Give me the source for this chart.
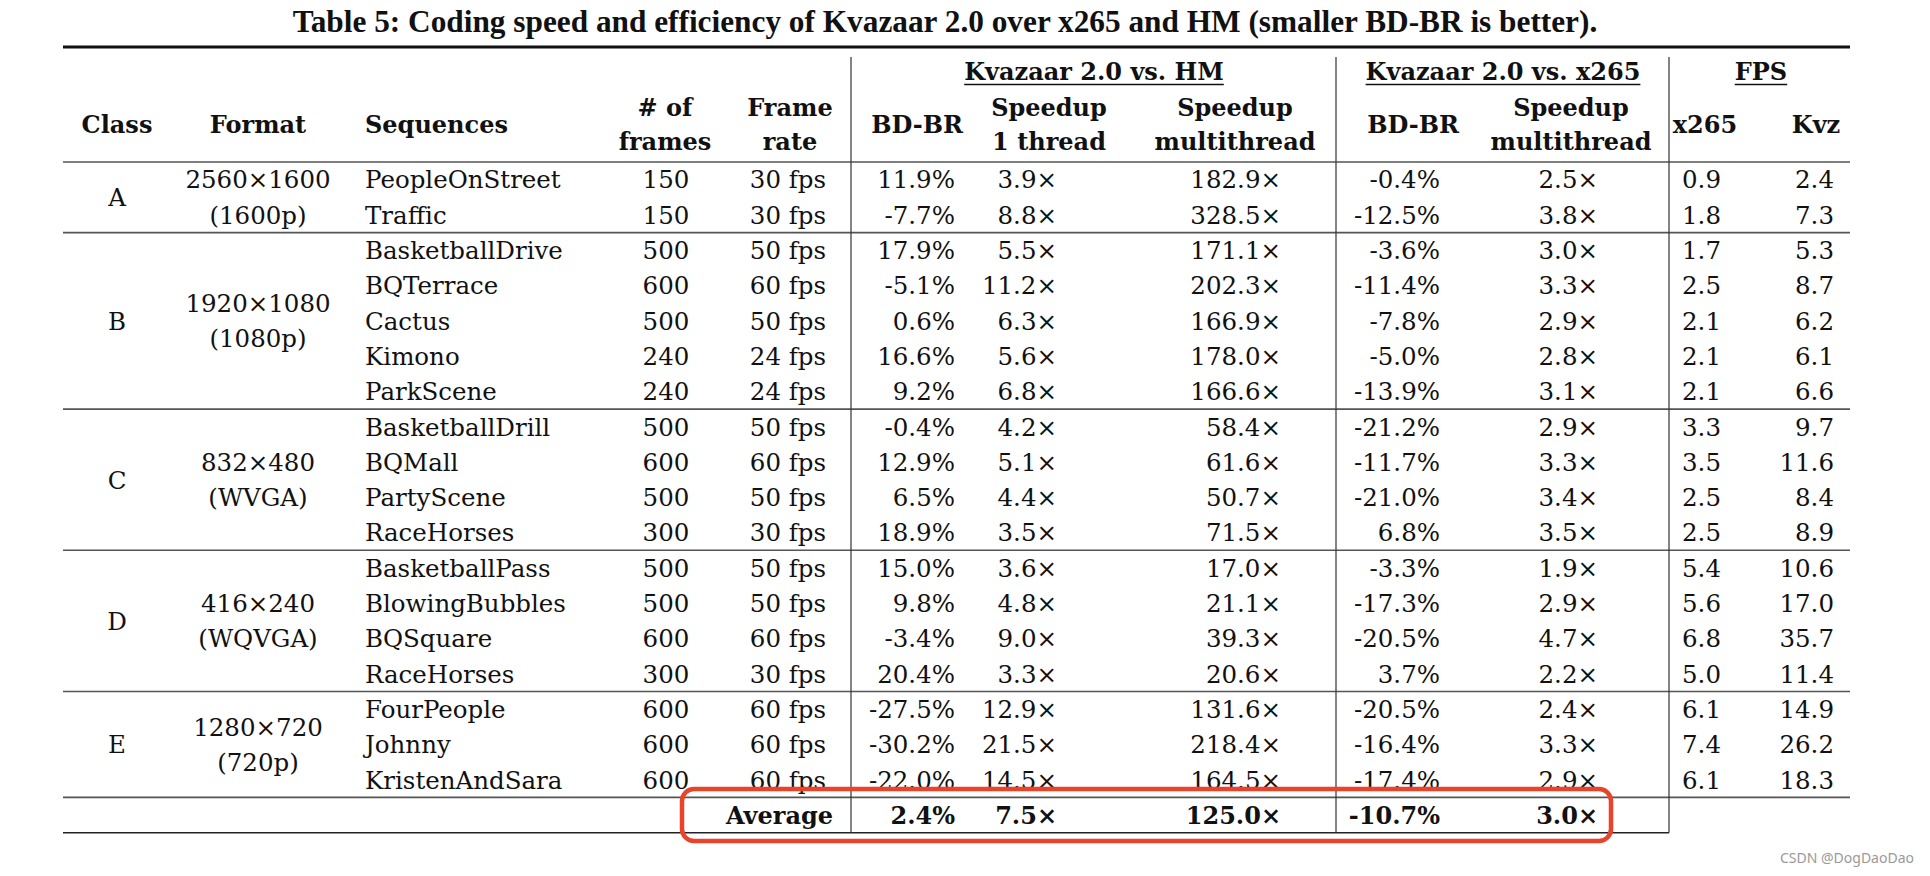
<!DOCTYPE html>
<html>
<head>
<meta charset="utf-8">
<script src="https://cdn.jsdelivr.net/npm/d3@7"></script>
<style>
  body { margin: 0; background: #fff; }
  svg { display: block; }
</style>
</head>
<body>
<div class="vis"></div>
<script>
// table data, one row per sequence
const classNames = ['A', 'B', 'C', 'D', 'E']
const classSizes = [2, 5, 4, 4, 3]
const formatRes = ['2560×1600', '1920×1080', '832×480', '416×240', '1280×720']
const formatName = ['(1600p)', '(1080p)', '(WVGA)', '(WQVGA)', '(720p)']

const sequences = [
  'PeopleOnStreet', 'Traffic',
  'BasketballDrive', 'BQTerrace', 'Cactus', 'Kimono', 'ParkScene',
  'BasketballDrill', 'BQMall', 'PartyScene', 'RaceHorses',
  'BasketballPass', 'BlowingBubbles', 'BQSquare', 'RaceHorses',
  'FourPeople', 'Johnny', 'KristenAndSara'
]
const frames = [150, 150, 500, 600, 500, 240, 240, 500, 600, 500, 300, 500, 500, 600, 300, 600, 600, 600]
const frameRates = [30, 30, 50, 60, 50, 24, 24, 50, 60, 50, 30, 50, 50, 60, 30, 60, 60, 60]
const hmBdbr = [11.9, -7.7, 17.9, -5.1, 0.6, 16.6, 9.2, -0.4, 12.9, 6.5, 18.9, 15.0, 9.8, -3.4, 20.4, -27.5, -30.2, -22.0]
const hmSpeed1 = [3.9, 8.8, 5.5, 11.2, 6.3, 5.6, 6.8, 4.2, 5.1, 4.4, 3.5, 3.6, 4.8, 9.0, 3.3, 12.9, 21.5, 14.5]
const hmSpeedMulti = [182.9, 328.5, 171.1, 202.3, 166.9, 178.0, 166.6, 58.4, 61.6, 50.7, 71.5, 17.0, 21.1, 39.3, 20.6, 131.6, 218.4, 164.5]
const x265Bdbr = [-0.4, -12.5, -3.6, -11.4, -7.8, -5.0, -13.9, -21.2, -11.7, -21.0, 6.8, -3.3, -17.3, -20.5, 3.7, -20.5, -16.4, -17.4]
const x265SpeedMulti = [2.5, 3.8, 3.0, 3.3, 2.9, 2.8, 3.1, 2.9, 3.3, 3.4, 3.5, 1.9, 2.9, 4.7, 2.2, 2.4, 3.3, 2.9]
const fpsX265 = [0.9, 1.8, 1.7, 2.5, 2.1, 2.1, 2.1, 3.3, 3.5, 2.5, 2.5, 5.4, 5.6, 6.8, 5.0, 6.1, 7.4, 6.1]
const fpsKvz = [2.4, 7.3, 5.3, 8.7, 6.2, 6.1, 6.6, 9.7, 11.6, 8.4, 8.9, 10.6, 17.0, 35.7, 11.4, 14.9, 26.2, 18.3]

const averageLabel = 'Average'
const average = { hmBd: 2.4, hmS1: 7.5, hmSm: 125.0, xBd: -10.7, xSm: 3.0 }

const title = 'Table 5: Coding speed and efficiency of Kvazaar 2.0 over x265 and HM (smaller BD-BR is better).'

const width = 1930
const height = 876
const left = 63
const right = 1850
const fpsRight = 1669
const headTop = 47
const headBottom = 162
const rowH = 35.3
const nRows = sequences.length + 1

const serif = '"DejaVu Serif", serif'

const svg = d3
  .select('.vis')
  .append('svg')
  .attr('width', width)
  .attr('height', height)

// rows through a band scale, the last band is the average row
const y = d3
  .scaleBand()
  .domain(d3.range(nRows))
  .range([headBottom, headBottom + nRows * rowH])
const yc = i => y(i) + y.bandwidth() / 2

// column anchors
const colX = d3
  .scaleOrdinal()
  .domain(['cls', 'fmt', 'seq', 'frames', 'rate', 'hmBd', 'hmS1', 'hmSm', 'xBd', 'xSm', 'fX', 'fK'])
  .range([117, 258, 365, 666, 788, 955, 1057, 1281, 1440, 1598, 1721, 1834])
const colAnchor = {
  cls: 'middle', fmt: 'middle', seq: 'start', frames: 'middle', rate: 'middle',
  hmBd: 'end', hmS1: 'end', hmSm: 'end', xBd: 'end', xSm: 'end', fX: 'end', fK: 'end'
}

const pct = d => `${d.toFixed(1)}%`
const times = d => `${d.toFixed(1)}×`
const one = d => d.toFixed(1)

// title
svg
  .append('text')
  .attr('x', 945)
  .attr('y', 32)
  .attr('text-anchor', 'middle')
  .attr('font-family', '"Liberation Serif", serif')
  .attr('font-weight', 'bold')
  .attr('font-size', 31.3)
  .attr('fill', '#111')
  .text(title)

// rules
const hline = (x1, x2, yy, w, c) =>
  svg
    .append('line')
    .attr('x1', x1)
    .attr('x2', x2)
    .attr('y1', yy)
    .attr('y2', yy)
    .attr('stroke', c)
    .attr('stroke-width', w)

hline(left, right, headTop, 3, '#111')
hline(left, right, headBottom, 1.6, '#555')
let acc = 0
classSizes.forEach(n => {
  acc += n
  hline(left, right, y(acc), 1.6, '#555')
})
hline(left, fpsRight, y(nRows - 1) + y.bandwidth(), 1.6, '#222')

// vertical separators
;[851, 1336, fpsRight].forEach(x =>
  svg
    .append('line')
    .attr('x1', x)
    .attr('x2', x)
    .attr('y1', 57)
    .attr('y2', y(nRows - 1) + y.bandwidth())
    .attr('stroke', '#333')
    .attr('stroke-width', 1.2)
)

// header
const head = svg
  .append('g')
  .attr('font-family', serif)
  .attr('font-weight', 'bold')
  .attr('font-size', 24)
  .attr('fill', '#111')

const headers = [
  { lines: ['Class'], x: 117, a: 'middle' },
  { lines: ['Format'], x: 258, a: 'middle' },
  { lines: ['Sequences'], x: 365, a: 'start' },
  { lines: ['# of', 'frames'], x: 665, a: 'middle' },
  { lines: ['Frame', 'rate'], x: 790, a: 'middle' },
  { lines: ['BD-BR'], x: 917, a: 'middle' },
  { lines: ['Speedup', '1 thread'], x: 1049, a: 'middle' },
  { lines: ['Speedup', 'multithread'], x: 1235, a: 'middle' },
  { lines: ['BD-BR'], x: 1413, a: 'middle' },
  { lines: ['Speedup', 'multithread'], x: 1571, a: 'middle' },
  { lines: ['x265'], x: 1705, a: 'middle' },
  { lines: ['Kvz'], x: 1816, a: 'middle' }
]
headers.forEach(h => {
  const ys = h.lines.length === 1 ? [124] : [107, 141.5]
  h.lines.forEach((t, i) =>
    head
      .append('text')
      .attr('x', h.x)
      .attr('y', ys[i])
      .attr('dy', '0.36em')
      .attr('text-anchor', h.a)
      .text(t)
  )
})

const groups = [
  { t: 'Kvazaar 2.0 vs. HM', x: 1094 },
  { t: 'Kvazaar 2.0 vs. x265', x: 1503 },
  { t: 'FPS', x: 1761 }
]
groups.forEach(g => {
  const t = head
    .append('text')
    .attr('x', g.x)
    .attr('y', 71)
    .attr('dy', '0.36em')
    .attr('text-anchor', 'middle')
    .text(g.t)
  const w = t.node().getComputedTextLength()
  hline(g.x - w / 2, g.x + w / 2, 84.5, 1.4, '#111')
})

// body
const body = svg
  .append('g')
  .attr('font-family', serif)
  .attr('font-size', 24.5)
  .attr('fill', '#111')

const cell = (g, key, i, txt) =>
  g
    .append('text')
    .attr('x', colX(key))
    .attr('y', yc(i))
    .attr('dy', '0.36em')
    .attr('text-anchor', colAnchor[key])
    .text(txt)

sequences.forEach((s, i) => {
  cell(body, 'seq', i, s)
  cell(body, 'frames', i, frames[i])
  cell(body, 'rate', i, `${frameRates[i]} fps`)
  cell(body, 'hmBd', i, pct(hmBdbr[i]))
  cell(body, 'hmS1', i, times(hmSpeed1[i]))
  cell(body, 'hmSm', i, times(hmSpeedMulti[i]))
  cell(body, 'xBd', i, pct(x265Bdbr[i]))
  cell(body, 'xSm', i, times(x265SpeedMulti[i]))
  cell(body, 'fX', i, one(fpsX265[i]))
  cell(body, 'fK', i, one(fpsKvz[i]))
})

// class + format spanning cells
let start = 0
classNames.forEach((c, k) => {
  const n = classSizes[k]
  const mid = (y(start) + y(start + n - 1) + y.bandwidth()) / 2
  body
    .append('text')
    .attr('x', colX('cls'))
    .attr('y', mid)
    .attr('dy', '0.36em')
    .attr('text-anchor', 'middle')
    .text(c)
  ;[formatRes[k], formatName[k]].forEach((t, j) =>
    body
      .append('text')
      .attr('x', colX('fmt'))
      .attr('y', mid + (j === 0 ? -1 : 1) * rowH / 2)
      .attr('dy', '0.36em')
      .attr('text-anchor', 'middle')
      .text(t)
  )
  start += n
})

// average row
const avg = svg
  .append('g')
  .attr('font-family', serif)
  .attr('font-weight', 'bold')
  .attr('font-size', 24)
  .attr('fill', '#111')
const ai = nRows - 1
avg
  .append('text')
  .attr('x', 833)
  .attr('y', yc(ai))
  .attr('dy', '0.36em')
  .attr('text-anchor', 'end')
  .text(averageLabel)
cell(avg, 'hmBd', ai, pct(average.hmBd))
cell(avg, 'hmS1', ai, times(average.hmS1))
cell(avg, 'hmSm', ai, times(average.hmSm))
cell(avg, 'xBd', ai, pct(average.xBd))
cell(avg, 'xSm', ai, times(average.xSm))

// red highlight box
svg
  .append('rect')
  .attr('x', 682)
  .attr('y', 789)
  .attr('width', 929)
  .attr('height', 52)
  .attr('rx', 12)
  .attr('fill', 'none')
  .attr('stroke', '#e8442b')
  .attr('stroke-width', 4.5)

// watermark
svg
  .append('text')
  .attr('x', 1914)
  .attr('y', 863)
  .attr('text-anchor', 'end')
  .attr('font-family', '"Noto Sans", sans-serif')
  .attr('font-size', 14)
  .attr('fill', '#9a9a9a')
  .text('CSDN @DogDaoDao')
</script>
</body>
</html>
